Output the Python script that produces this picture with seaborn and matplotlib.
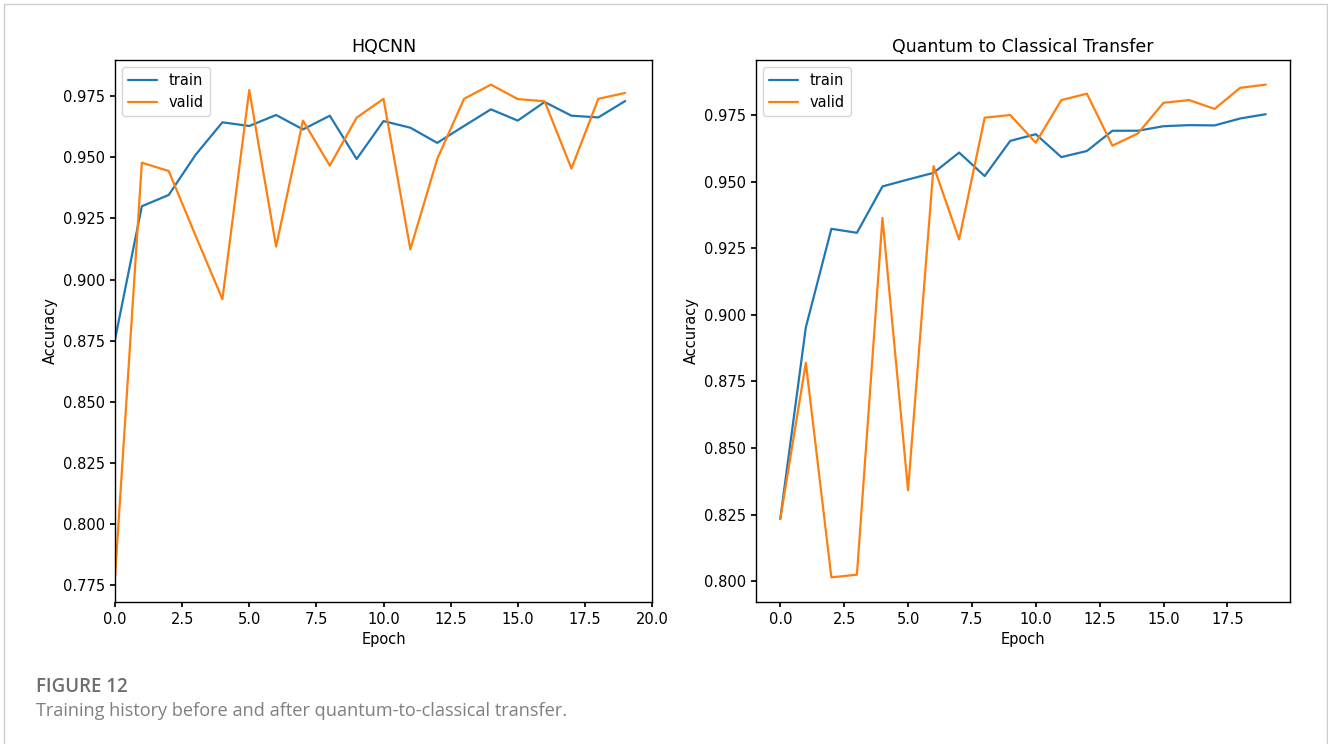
import numpy as np
import pandas as pd
import matplotlib
matplotlib.use("Agg")
import matplotlib.pyplot as plt
from matplotlib.patches import Rectangle
import seaborn as sns

epochs = list(range(20))

hqcnn_train = [0.8755, 0.930, 0.9346, 0.951, 0.9643, 0.9628, 0.9673, 0.9614, 0.9670, 0.9493,
               0.9648, 0.9621, 0.9559, 0.9628, 0.9696, 0.9650, 0.9726, 0.9670, 0.9663, 0.9730]
hqcnn_valid = [0.7783, 0.9478, 0.9444, 0.918, 0.892, 0.9775, 0.9135, 0.9650, 0.9466, 0.9662,
               0.9739, 0.9124, 0.9493, 0.9739, 0.9797, 0.9738, 0.9729, 0.9454, 0.9739, 0.9763]

q2c_train = [0.8234, 0.8953, 0.9323, 0.9308, 0.9482, 0.9508, 0.9533, 0.9609, 0.9521, 0.9653,
             0.9678, 0.9592, 0.9615, 0.9691, 0.9691, 0.9708, 0.9712, 0.9711, 0.9737, 0.9753]
q2c_valid = [0.8234, 0.8820, 0.8015, 0.8025, 0.9364, 0.8342, 0.9558, 0.9283, 0.9740, 0.9750,
             0.9646, 0.9806, 0.9830, 0.9635, 0.9681, 0.9796, 0.9806, 0.9773, 0.9852, 0.9864]

titles = ["HQCNN", "Quantum to Classical Transfer"]
series_names = ["train", "valid"]
caption_head = "FIGURE 12"
caption_text = "Training history before and after quantum-to-classical transfer."

sns.set_theme(style="ticks")
plt.rcParams["font.family"] = ["DejaVu Sans"]
plt.rcParams.update({
    "axes.edgecolor": "black",
    "axes.linewidth": 1.0,
    "xtick.color": "black",
    "ytick.color": "black",
    "xtick.labelsize": 10.5,
    "ytick.labelsize": 10.5,
    "xtick.major.size": 3.5,
    "ytick.major.size": 3.5,
    "text.color": "black",
    "axes.labelcolor": "black",
})

fig = plt.figure(figsize=(13.28, 7.44), dpi=100)
W, H = 1328, 744

def frac_box(x0, x1, y0, y1):
    return [x0 / W, 1 - y1 / H, (x1 - x0) / W, (y1 - y0) / H]

ax1 = fig.add_axes(frac_box(115, 652, 60, 602))
ax2 = fig.add_axes(frac_box(756, 1290, 60, 602))

palette = {"train": "#1f77b4", "valid": "#ff7f0e"}

panels = [(ax1, hqcnn_train, hqcnn_valid, titles[0]),
          (ax2, q2c_train, q2c_valid, titles[1])]

for ax, tr, va, title in panels:
    df = pd.DataFrame({
        "Epoch": epochs * 2,
        "Accuracy": tr + va,
        "series": [series_names[0]] * len(epochs) + [series_names[1]] * len(epochs),
    })
    sns.lineplot(data=df, x="Epoch", y="Accuracy", hue="series", palette=palette,
                 ax=ax, linewidth=1.6, legend=True)
    ax.set_title(title, fontsize=12.5, pad=6)
    ax.set_xlabel("Epoch", fontsize=10.5)
    ax.set_ylabel("Accuracy", fontsize=10.5)
    for s in ax.spines.values():
        s.set_visible(True)
        s.set_color("black")
    ax.legend(loc="upper left", fontsize=10.5, frameon=True, fancybox=True,
              framealpha=0.8, edgecolor="#cccccc", title=None)

ax1.set_xlim(0, 20)
ax1.set_xticks(np.arange(0, 20.1, 2.5))
ax1.set_yticks(np.arange(0.775, 0.9751, 0.025))
ax2.set_xticks(np.arange(0, 17.6, 2.5))
ax2.set_yticks(np.arange(0.800, 0.9751, 0.025))
ax1.yaxis.set_major_formatter(matplotlib.ticker.FormatStrFormatter("%.3f"))
ax2.yaxis.set_major_formatter(matplotlib.ticker.FormatStrFormatter("%.3f"))
ax1.xaxis.set_major_formatter(matplotlib.ticker.FormatStrFormatter("%.1f"))
ax2.xaxis.set_major_formatter(matplotlib.ticker.FormatStrFormatter("%.1f"))

# outer frame
fig.patches.append(Rectangle((4 / W, -0.02), (1327 - 4) / W, (744 - 4) / H + 0.02,
                             transform=fig.transFigure, fill=False,
                             edgecolor="#cccccc", linewidth=1.0))

fig.text(36 / W, 1 - 692 / H, caption_head, fontsize=13.4, fontweight="semibold",
         color="#6d6d6d", family=["Open Sans", "DejaVu Sans"], va="baseline")
fig.text(36 / W, 1 - 716 / H, caption_text, fontsize=13.1,
         color="#7f7f7f", family=["Open Sans", "DejaVu Sans"], va="baseline")

fig.savefig("out.png", dpi=100)
